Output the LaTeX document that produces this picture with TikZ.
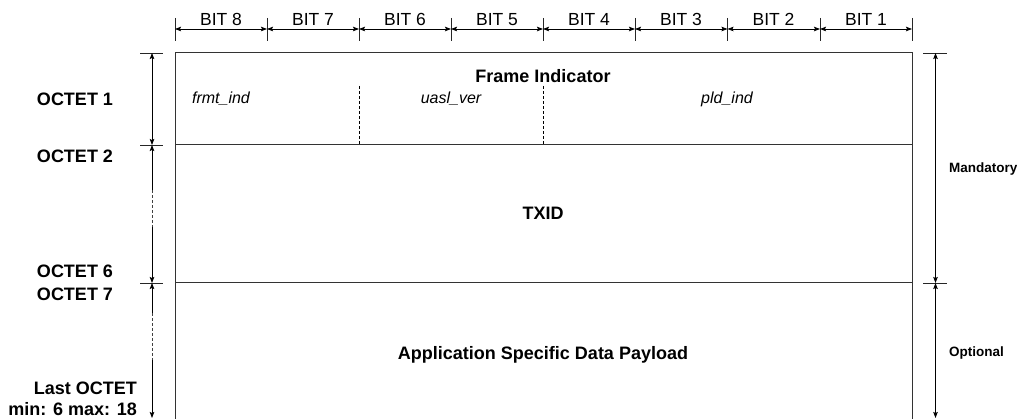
\documentclass[tikz,border=0pt]{standalone}
\usepackage{fontspec}
\setmainfont{Liberation Sans}
\usetikzlibrary{arrows.meta}
\tikzset{
  tip/.tip={Stealth[length=6pt,width=4.5pt,inset=1pt]},
  ln/.style={line width=1pt, draw=black!80},
  dim/.style={line width=0.8pt, draw=black, tip-tip},
  dimend/.style={line width=0.8pt, draw=black, -tip},
  dimstart/.style={line width=0.8pt, draw=black, tip-},
  dimdash/.style={line width=0.7pt, draw=black!75, dash pattern=on 3pt off 2pt},
  tick/.style={line width=0.8pt, draw=black!85},
  bitlbl/.style={font=\fontsize{17.5pt}{20pt}\selectfont, inner sep=0pt, anchor=base},
  boldlbl/.style={font=\fontsize{18pt}{21pt}\selectfont\bfseries, inner sep=0pt, anchor=base},
  itlbl/.style={font=\fontsize{16pt}{19pt}\selectfont\itshape, inner sep=0pt, anchor=base},
  sidelbl/.style={font=\fontsize{13.5pt}{16pt}\selectfont\bfseries, inner sep=0pt, anchor=base west},
}
\begin{document}
\begin{tikzpicture}[x=1pt,y=-1pt]
\useasboundingbox (0,0) rectangle (1017,419);
% bit ticks
\foreach \i/\x in {0/175,1/267,2/359,3/451,4/543,5/635,6/727.5,7/820,8/912}{
  \coordinate (t\i) at (\x,29);
  \draw[tick] (\x,18) -- (\x,41);
}
\foreach \i [evaluate=\i as \j using int(\i+1)] in {0,...,7}{
  \draw[dim] (t\i) -- (t\j);
}
\foreach \i/\x in {8/221,7/313,6/405,5/497,4/589,3/681,2/773.5,1/866}{
  \node[bitlbl] (bit\i) at (\x,26) {BIT \i};
}
% box
\coordinate (tl) at (175,53);
\coordinate (tr) at (912,53);
\coordinate (bl) at (175,419);
\coordinate (br) at (912,419);
\coordinate (r1l) at (175,145);
\coordinate (r1r) at (912,145);
\coordinate (r2l) at (175,283);
\coordinate (r2r) at (912,283);
\draw[ln] (bl) -- (tl) -- (tr) -- (br);
\draw[ln] (r1l) -- (r1r);
\draw[ln] (r2l) -- (r2r);
% dashed separators
\coordinate (d1a) at (359,86);
\coordinate (d1b) at (359,145);
\coordinate (d2a) at (543,86);
\coordinate (d2b) at (543,145);
\draw[line width=0.7pt, dash pattern=on 3pt off 2pt] (d1a) -- (d1b);
\draw[line width=0.7pt, dash pattern=on 3pt off 2pt] (d2a) -- (d2b);
% texts in box
\node[boldlbl] (fi) at (543,83) {Frame Indicator};
\node[itlbl] (frmt) at (221,104) {frmt\_ind};
\node[itlbl] (uasl) at (451,104) {uasl\_ver};
\node[itlbl] (pld) at (727,104) {pld\_ind};
\node[boldlbl] (txid) at (543,220) {TXID};
\node[boldlbl] (asdp) at (543,359.3) {Application Specific Data Payload};
% left dimension
\foreach \y in {53,145,283}{
  \draw[tick] (140,\y) -- (163,\y);
}
\coordinate (la) at (152,53);
\coordinate (lb) at (152,145);
\coordinate (lc1) at (152,190);
\coordinate (lc2) at (152,227);
\coordinate (ld) at (152,283);
\coordinate (le1) at (152,313);
\coordinate (le2) at (152,360);
\coordinate (lf) at (152,418);
\draw[dim] (la) -- (lb);
\draw[dimstart] (lb) -- (lc1);
\draw[dimdash] (lc1) -- (lc2);
\draw[dimend] (lc2) -- (ld);
\draw[dimstart] (ld) -- (le1);
\draw[dimdash] (le1) -- (le2);
\draw[dimend] (le2) -- (lf);
\node[boldlbl] (o1) at (75,105.7) {OCTET 1};
\node[boldlbl] (o2) at (75,162.7) {OCTET 2};
\node[boldlbl] (o6) at (75,277.3) {OCTET 6};
\node[boldlbl] (o7) at (75,300.7) {OCTET 7};
\node[boldlbl, anchor=base east] (lo) at (137,394.3) {Last OCTET};
\node[boldlbl, anchor=base east] (mm) at (137,415) {min: 6 max: 18};
% right dimension
\foreach \y in {53,283}{
  \draw[tick] (923,\y) -- (947,\y);
}
\coordinate (ra) at (935.5,53);
\coordinate (rb) at (935.5,283);
\coordinate (rc) at (935.5,418);
\draw[dim] (ra) -- (rb);
\draw[dim] (rb) -- (rc);
\node[sidelbl] (mand) at (949,172.7) {Mandatory};
\node[sidelbl] (opt) at (949,356) {Optional};
\end{tikzpicture}
\end{document}
